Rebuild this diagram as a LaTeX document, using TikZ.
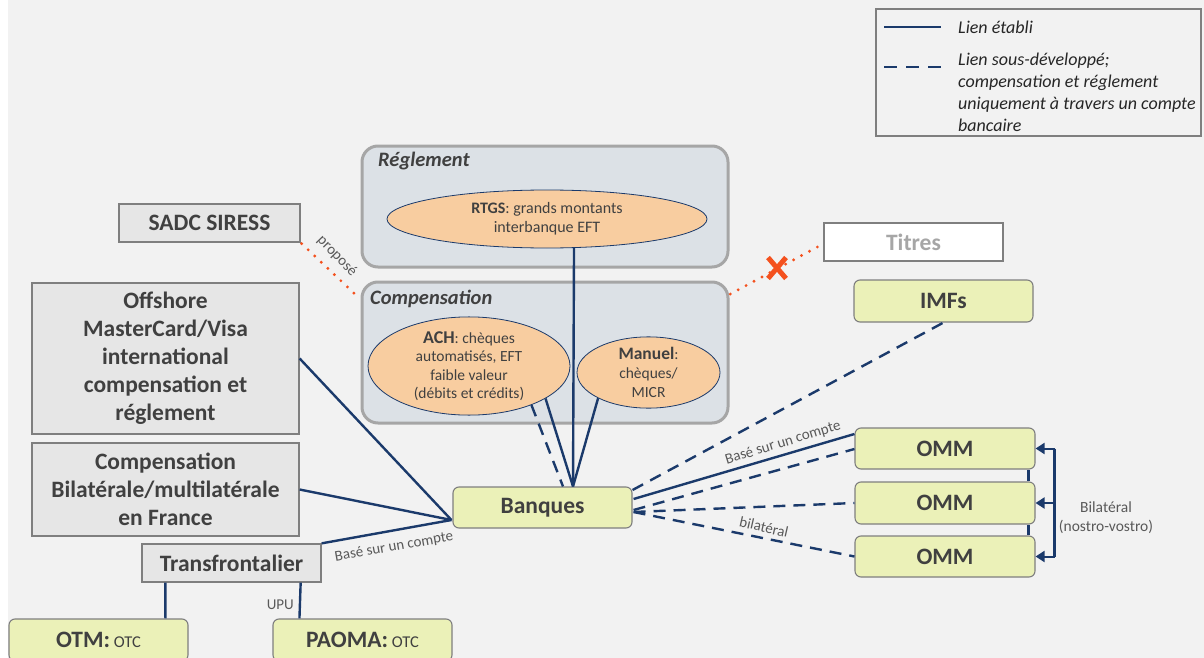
\documentclass[tikz,border=0pt]{standalone}
\usepackage{fontspec}
\setmainfont{Carlito}
\usetikzlibrary{shapes.geometric,shapes.misc,arrows.meta,calc}
\definecolor{bgc}{HTML}{F2F2F2}
\definecolor{grayfill}{HTML}{E6E6E6}
\definecolor{boxline}{HTML}{7F7F7F}
\definecolor{greenfill}{HTML}{EBF1B8}
\definecolor{contfill}{HTML}{DCE1E6}
\definecolor{contline}{HTML}{A6A6A6}
\definecolor{peach}{HTML}{F8CDA0}
\definecolor{navy}{HTML}{1B3A6B}
\definecolor{redo}{HTML}{F4511E}
\definecolor{txt}{HTML}{404040}
\definecolor{lbl}{HTML}{595959}
\begin{document}
\begin{tikzpicture}[x=1pt,y=-1pt,
  graybox/.style={draw=boxline,fill=grayfill,line width=1.3pt,inner sep=0pt,text=txt,align=center,
    font=\fontsize{23.5}{28}\selectfont\bfseries},
  greenbox/.style={draw=boxline,fill=greenfill,line width=1.1pt,rounded corners=6pt,inner sep=0pt,text=txt,align=center,
    font=\fontsize{23.5}{26}\selectfont\bfseries},
  container/.style={draw=contline,fill=contfill,line width=3pt,rounded corners=16pt,inner sep=0pt},
  conttitle/.style={text=txt,font=\fontsize{20.5}{24}\selectfont\bfseries\itshape,inner sep=0pt},
  ell/.style={ellipse,draw=navy,fill=peach,line width=0.8pt,inner sep=0pt,text=txt,align=center,
    font=\fontsize{15.5}{19}\selectfont},
  navyline/.style={draw=navy,line width=2.4pt},
  navydash/.style={draw=navy,line width=2.4pt,dash pattern=on 12pt off 8pt},
  reddot/.style={draw=redo,line width=3.2pt,line cap=round,dash pattern=on 0pt off 9pt},
  clabel/.style={text=lbl,font=\fontsize{15}{18}\selectfont,inner sep=0pt},
  legtext/.style={text=black!85,font=\fontsize{18}{22}\selectfont\itshape,inner sep=0pt,align=left},
  tip/.style={-{Triangle[length=9pt,width=11pt]}}
]
\useasboundingbox (0,0) rectangle (1204,658);
\fill[white] (0,0) rectangle (1204,658);
\fill[bgc] (8,0) rectangle (1204,658);

% legend
\node[draw=boxline,line width=1.1pt,fill=bgc,minimum width=325pt,minimum height=127pt,inner sep=0pt] (leg) at (1038.5,72.5) {};
\coordinate (l1a) at (884,27); \coordinate (l1b) at (941,27);
\coordinate (l2a) at (884,67); \coordinate (l2b) at (941,67);
\draw[navyline] (l1a) -- (l1b);
\draw[navydash,dash pattern=on 13pt off 9pt] (l2a) -- (l2b);
\node[legtext,anchor=west] (lt1) at (958,27) {Lien établi};
\node[legtext,anchor=north west] (lt2) at (958,53) {Lien sous-développé;\\compensation et réglement\\uniquement à travers un compte\\bancaire};

% containers
\node[container,minimum width=366pt,minimum height=121pt] (regl) at (545,206.5) {};
\node[container,minimum width=366pt,minimum height=141pt] (comp) at (545,352.5) {};
\node[conttitle,anchor=west] (reglt) at (378,161) {Réglement};
\node[conttitle,anchor=west] (compt) at (370,299) {Compensation};

% ellipses
\node[ell,minimum width=320pt,minimum height=58pt,font=\fontsize{16}{19}\selectfont] (rtgs) at (547,219) {\textbf{RTGS}: grands montants\\interbanque EFT};
\node[ell,minimum width=202pt,minimum height=86pt,font=\fontsize{15.5}{18.5}\selectfont] (ach) at (469,366) {\textbf{\fontsize{18}{18.5}\selectfont ACH}: chèques\\automatisés, EFT\\faible valeur\\(débits et crédits)};
\node[ell,minimum width=143pt,minimum height=71pt] (man) at (648.5,372.5) {\textbf{\fontsize{17.5}{19}\selectfont Manuel}:\\chèques/\\MICR};

% gray boxes
\node[graybox,minimum width=181pt,minimum height=38pt] (sadc) at (209.5,223) {SADC SIRESS};
\node[graybox,minimum width=267pt,minimum height=151pt] (off) at (165.5,358.5) {Offshore\\MasterCard/Visa\\international\\compensation et\\réglement};
\node[graybox,minimum width=267pt,minimum height=93pt] (cbil) at (165.5,489.5) {Compensation\\Bilatérale/multilatérale\\en France};
\node[graybox,minimum width=179pt,minimum height=38pt] (tf) at (231.5,563) {Transfrontalier};
\node[graybox,fill=white,text=contline,minimum width=179pt,minimum height=38pt] (titres) at (913.5,242) {Titres};

% green boxes
\node[greenbox,minimum width=179pt,minimum height=42pt] (otm) at (98.5,640) {OTM:\,{\mdseries\fontsize{16.5}{18}\selectfont OTC}};
\node[greenbox,minimum width=179pt,minimum height=42pt] (paoma) at (362.5,640) {PAOMA:\,{\mdseries\fontsize{16.5}{18}\selectfont OTC}};
\node[greenbox,minimum width=179pt,minimum height=41pt] (bq) at (542.5,507.5) {Banques};
\node[greenbox,minimum width=179pt,minimum height=42pt] (imf) at (943.5,301) {IMFs};
\node[greenbox,minimum width=180pt,minimum height=41pt] (omm1) at (945,448.5) {OMM};
\node[greenbox,minimum width=180pt,minimum height=42pt] (omm2) at (945,503) {OMM};
\node[greenbox,minimum width=180pt,minimum height=41pt] (omm3) at (945,556.5) {OMM};

% OMM vertical link
\draw[navyline] ($(omm1.south east)+(-7,0)$) -- ($(omm2.north east)+(-7,0)$);
\draw[navyline] ($(omm2.south east)+(-7,0)$) -- ($(omm3.north east)+(-7,0)$);

% Bilatéral bracket
\coordinate (br1) at ($(omm1.east)+(19,0)$);
\coordinate (br2) at ($(omm2.east)+(19,0)$);
\coordinate (br3) at ($(omm3.east)+(19,0)$);
\draw[navyline] (br1) -- (br3);
\draw[navyline,line width=2pt,tip] (br1) -- (omm1.east);
\draw[navyline,line width=2pt,tip] (br2) -- (omm2.east);
\draw[navyline,line width=2pt,tip] (br3) -- (omm3.east);
\node[clabel,align=center,font=\fontsize{15.5}{19}\selectfont] (bilat) at (1106,518) {Bilatéral\\(nostro-vostro)};

% connectors to Banques
\coordinate (bqtop) at ($(bq.north)+(30.5,0)$);
\coordinate (bqtopd) at ($(bq.north)+(20.5,0)$);
\coordinate (bqleft) at ($(bq.west)+(-1,12.5)$);
\draw[navyline] (rtgs.-47.7) -- (bqtop);
\draw[navyline] (ach.-23.6) -- (bqtop);
\draw[navydash] (ach.-32.6) -- (bqtopd);
\draw[navyline] (man.-153.6) -- (bqtop);
\draw[navyline] (off.east) -- (bqleft);
\draw[navyline] (cbil.east) -- (bqleft);
\draw[navyline] (tf.north east) -- (bqleft);
\node[clabel,rotate=10] (lbtf) at (394,547) {Basé sur un compte};

% Transfrontalier down links
\draw[navyline] ($(tf.south west)+(24,0)$) -- ($(otm.north west)+(157,0)$);
\draw[navyline] ($(tf.south east)+(-21,0)$) -- ($(paoma.north west)+(27,0)$);
\node[clabel,anchor=east] (upu) at (294,605) {UPU};

% right side from Banques
\draw[navydash] ($(bq.east)+(0,-17.5)$) -- (imf.south);
\draw[navyline] ($(bq.east)+(1,-8.5)$) -- ($(omm1.west)+(0,-14.5)$);
\draw[navydash] ($(bq.east)+(1,2.5)$) -- ($(omm1.west)+(0,0.5)$);
\draw[navydash] ($(bq.east)+(1,4.5)$) -- (omm2.west);
\draw[navydash] ($(bq.east)+(1,4.5)$) -- (omm3.west);
\node[clabel,rotate=17] (lbomm) at (783,443) {Basé sur un compte};
\node[clabel,rotate=-13] (lbbil) at (764,527) {bilatéral};

% red dotted links
\draw[reddot] ($(sadc.south east)+(1,1)$) -- ($(comp.north west)+(-3,16)$);
\node[clabel,rotate=-46] (prop) at (337,256) {proposé};
\draw[reddot] ($(titres.west)+(-6,5)$) -- ($(comp.north east)+(0,14)$);
\node[cross out,draw=redo,line width=5pt,minimum width=13pt,minimum height=16pt,inner sep=0pt] (xmark) at (777,268) {};
\end{tikzpicture}
\end{document}
